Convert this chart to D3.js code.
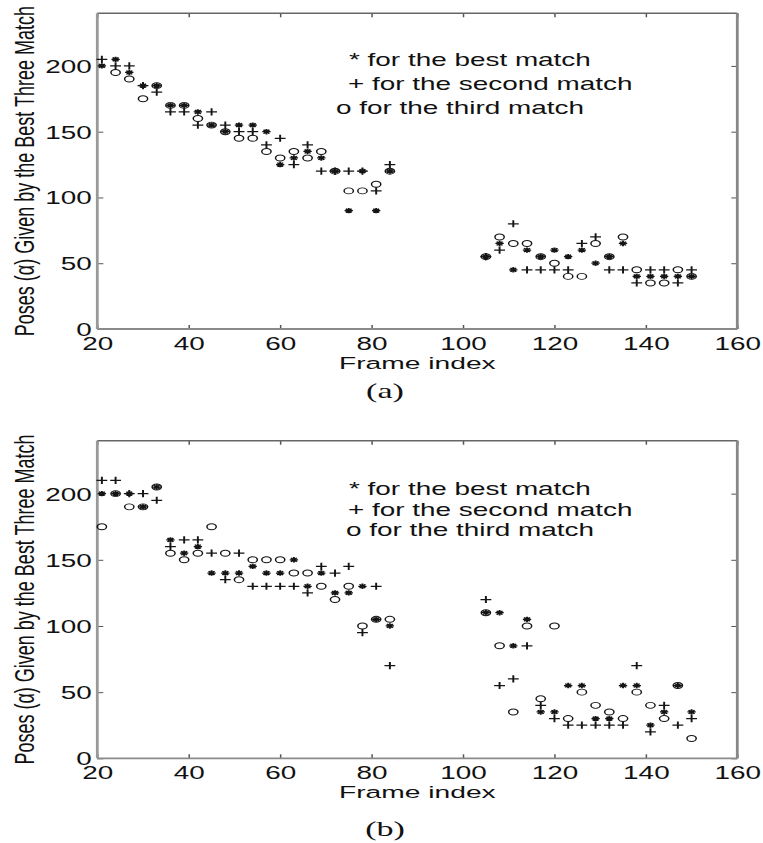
<!DOCTYPE html>
<html>
<head>
<meta charset="utf-8">
<script src="https://cdn.jsdelivr.net/npm/d3@7"></script>
<style>
  body { margin: 0; background: #fff; }
  text { font-family: "Liberation Sans", Arial, Helvetica, sans-serif; fill: #111; }
</style>
</head>
<body>
<svg id="chart" width="763" height="843"></svg>
<script>
// frame numbers (x) shared by both panels
const frames = [21, 24, 27, 30, 33, 36, 39, 42, 45, 48, 51, 54, 57, 60, 63, 66, 69, 72, 75, 78, 81, 84,
    105, 108, 111, 114, 117, 120, 123, 126, 129, 132, 135, 138, 141, 144, 147, 150];

// panel (a)
const bestA = [200, 205, 195, 185, 185, 170, 170, 165, 155, 150, 155, 155, 150, 125, 130, 135, 130, 120, 90, 120, 90, 120,
    55, 65, 45, 60, 55, 60, 55, 60, 50, 55, 65, 40, 40, 40, 40, 40];
const secondA = [205, 200, 200, 185, 180, 165, 165, 155, 165, 155, 150, 150, 140, 145, 125, 140, 120, 120, 120, 120, 105, 125,
    55, 60, 80, 45, 45, 45, 45, 65, 70, 45, 45, 35, 45, 45, 35, 45];
const thirdA = [null, 195, 190, 175, 185, 170, 170, 160, 155, 150, 145, 145, 135, 130, 135, 130, 135, 120, 105, 105, 110, 120,
    55, 70, 65, 65, 55, 50, 40, 40, 65, 55, 70, 45, 35, 35, 45, 40];

// panel (b)
const bestB = [200, 200, 200, 190, 205, 165, 155, 160, 140, 140, 140, 145, 140, 140, 150, 130, 140, 125, 125, 130, 105, 100,
    110, 110, 85, 105, 35, 35, 55, 55, 30, 30, 55, 55, 25, 35, 55, 35];
const secondB = [210, 210, 200, 200, 195, 160, 165, 165, 155, 135, 155, 130, 130, 130, 130, 125, 145, 140, 145, 95, 130, 70,
    120, 55, 60, 85, 40, 30, 25, 25, 25, 25, 25, 70, 20, 40, 25, 30];
const thirdB = [175, 200, 190, 190, 205, 155, 150, 155, 175, 155, 135, 150, 150, 150, 140, 140, 130, 120, 130, 100, 105, 105,
    110, 85, 35, 100, 45, 100, 30, 50, 40, 35, 30, 50, 40, 30, 55, 15];

const xTicks = [20, 40, 60, 80, 100, 120, 140, 160];
const yTicks = [0, 50, 100, 150, 200];
const legendLabels = ["* for the best match", "+ for the second match", "o for the third match"];
const xTitle = "Frame index";
const yTitle = "Poses (\u03b1) Given by the Best Three Match";

// the whole figure is stretched sideways
const S = 1.55;

const svg = d3.select("#chart");

const panels = [
    {series: [thirdA, secondA, bestA], top: 13.3, bottom: 329, legendX: [349, 348, 336], legendY: [66, 90, 114], tag: "(a)", tagY: 398},
    {series: [thirdB, secondB, bestB], top: 440.7, bottom: 758.3, legendX: [349, 348, 346], legendY: [495, 516, 536], tag: "(b)", tagY: 836}
];
const markers = ["circle", "plus", "star"];

const x = d3.scaleLinear().domain([20, 160]).range([97.3, 737.3]);

const markerPath = kind => {
    if (kind === "plus") return "M-3.5,0H3.5M0,-3.6V3.6";
    if (kind === "star") return "M-2.7,0H2.7M0,-2.7V2.7M-1.9,-1.9L1.9,1.9M-1.9,1.9L1.9,-1.9";
    return d3.arc()({innerRadius: 0, outerRadius: 3, startAngle: 0, endAngle: 2 * Math.PI});
};

panels.forEach(p => {
    const y = d3.scaleLinear().domain([0, 240]).range([p.bottom, p.top]);
    const g = svg.append("g");

    // ticks on all four sides, pointing inwards
    const bottom = g.append("g").attr("transform", `translate(0,${p.bottom})`)
        .call(d3.axisBottom(x).tickValues(xTicks).tickSize(-4).tickSizeOuter(0));
    const top = g.append("g").attr("transform", `translate(0,${p.top})`)
        .call(d3.axisTop(x).tickValues(xTicks).tickSize(-4).tickSizeOuter(0).tickFormat(""));
    const left = g.append("g").attr("transform", `translate(${x(20)},0)`)
        .call(d3.axisLeft(y).tickValues(yTicks).tickSize(-6).tickSizeOuter(0));
    const right = g.append("g").attr("transform", `translate(${x(160)},0)`)
        .call(d3.axisRight(y).tickValues(yTicks).tickSize(-6).tickSizeOuter(0).tickFormat(""));

    [bottom, top, left, right].forEach(a => {
        a.select(".domain").remove();
        a.attr("font-family", null).attr("font-size", null);
        a.selectAll(".tick line").attr("stroke", "#555");
    });
    bottom.selectAll(".tick line").attr("stroke-width", 1.5);
    top.selectAll(".tick line").attr("stroke-width", 1.5);

    bottom.selectAll(".tick text")
        .attr("y", null).attr("dy", null)
        .attr("transform", `translate(0,21) scale(${S},1)`)
        .style("font-size", "18px");
    left.selectAll(".tick text")
        .attr("x", null).attr("dy", "0.36em")
        .attr("transform", `translate(-5.6,0) scale(${S},1)`)
        .style("font-size", "18px");

    // axes box
    g.append("line").attr("x1", x(20)).attr("x2", x(160)).attr("y1", p.bottom).attr("y2", p.bottom)
        .attr("stroke", "#8a8a8a").attr("stroke-width", 1.8);
    g.append("line").attr("x1", x(20)).attr("x2", x(160)).attr("y1", p.top).attr("y2", p.top)
        .attr("stroke", "#666").attr("stroke-width", 1.6);
    g.append("line").attr("x1", x(20)).attr("x2", x(20)).attr("y1", p.top).attr("y2", p.bottom)
        .attr("stroke", "#999").attr("stroke-width", 2.8);
    g.append("line").attr("x1", x(160)).attr("x2", x(160)).attr("y1", p.top).attr("y2", p.bottom)
        .attr("stroke", "#888").attr("stroke-width", 2.8);

    // data marks: o third, + second, * best
    p.series.forEach((vals, k) => {
        const pts = frames.map((f, i) => ({f: f, v: vals[i]})).filter(d => d.v !== null);
        g.append("g")
            .selectAll("path")
            .data(pts)
            .join("path")
            .attr("d", markerPath(markers[k]))
            .attr("transform", d => `translate(${x(d.f)},${y(d.v)}) scale(${S},1)`)
            .attr("fill", "none")
            .attr("stroke", "#151515")
            .attr("stroke-width", markers[k] === "circle" ? 0.95 : 1.25);
    });

    // legend written as text
    g.append("g")
        .selectAll("text")
        .data(legendLabels)
        .join("text")
        .attr("transform", (d, i) => `translate(${p.legendX[i]},${p.legendY[i]}) scale(${S},1)`)
        .style("font-size", "18px")
        .text(d => d);

    // axis titles
    const midX = (x(20) + x(160)) / 2;
    g.append("text")
        .attr("transform", `translate(${midX},${p.bottom + 40}) scale(1.66,1)`)
        .attr("text-anchor", "middle")
        .style("font-size", "17px")
        .text(xTitle);
    g.append("text")
        .attr("transform", `translate(34,${(p.top + p.bottom) / 2}) scale(${S},1) rotate(-90)`)
        .attr("text-anchor", "middle")
        .style("font-size", "18px")
        .text(yTitle);

    g.append("text")
        .attr("transform", `translate(385,${p.tagY}) scale(${S},1)`)
        .attr("text-anchor", "middle")
        .style("font-family", "'Liberation Serif', 'Times New Roman', serif")
        .style("font-size", "22px")
        .text(p.tag);
});
</script>
</body>
</html>
